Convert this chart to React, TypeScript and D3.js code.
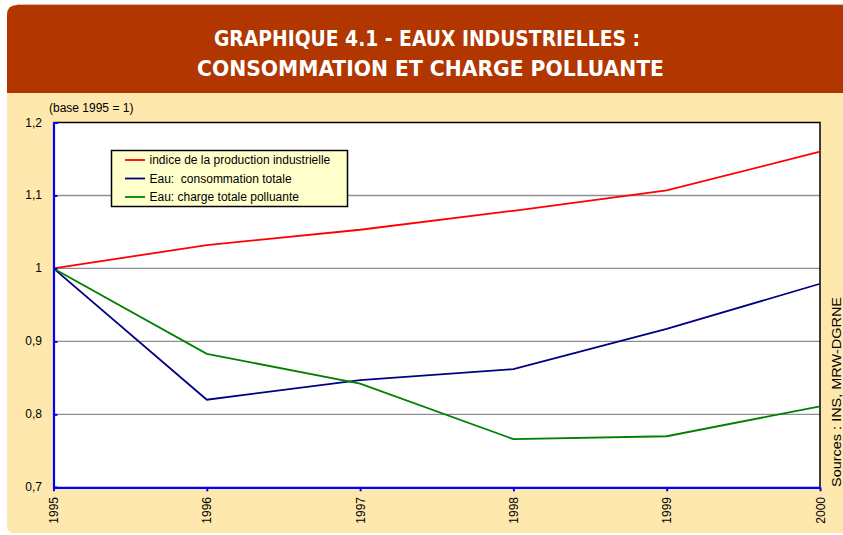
import React, { useEffect, useRef } from "react";
import * as d3 from "d3";

// values (base 1995 = 1)
const years = [1995, 1996, 1997, 1998, 1999, 2000];
const production = [1, 1.032, 1.053, 1.079, 1.107, 1.16];
const consommation = [1, 0.82, 0.847, 0.862, 0.917, 0.979];
const chargePolluante = [1, 0.883, 0.842, 0.766, 0.77, 0.811];
const yTicks = [0.7, 0.8, 0.9, 1, 1.1, 1.2];

const seriesNames = [
  "indice de la production industrielle",
  "Eau:  consommation totale",
  "Eau: charge totale polluante",
];
const seriesColors = ["#ff0000", "#000080", "#008000"];

const W = 843, H = 535;
const FONT = "'Liberation Sans', Arial, sans-serif";

export default function App() {
  const ref = useRef<SVGSVGElement>(null);

  useEffect(() => {
    const svg = d3.select(ref.current);
    svg.selectAll("*").remove();

    // header + panel
    svg.append("path")
      .attr("d", `M7,${93} L7,15 Q7,5 17,5 L${W + 5},5 L${W + 5},93 Z`)
      .attr("fill", "#b13600");
    svg.append("line")
      .attr("x1", 17).attr("x2", W).attr("y1", 4.5).attr("y2", 4.5)
      .attr("stroke", "#e0b8a8").attr("stroke-width", 1);
    svg.append("path")
      .attr("d", `M7,93 L${W + 5},93 L${W + 5},533 L14,533 Q7,533 7,526 Z`)
      .attr("fill", "#ffe8ad");

    const title = svg.append("g")
      .attr("fill", "#ffffff")
      .attr("font-family", "'Liberation Sans Narrow', 'DejaVu Sans Condensed', Arial, sans-serif")
      .attr("font-weight", "bold")
      .attr("font-size", 22)
      .attr("text-anchor", "middle");
    title.append("text").attr("x", 427).attr("y", 46)
      .attr("textLength", 426).attr("lengthAdjust", "spacingAndGlyphs")
      .text("GRAPHIQUE 4.1 - EAUX INDUSTRIELLES :");
    title.append("text").attr("x", 430.5).attr("y", 76)
      .attr("textLength", 467).attr("lengthAdjust", "spacingAndGlyphs")
      .text("CONSOMMATION ET CHARGE POLLUANTE");

    // plot area
    const left = 53.5, right = 820, top = 122.5, bottom = 487.3;

    const x = d3.scaleLinear().domain([1995, 2000]).range([left, right]);
    const y = d3.scaleLinear().domain([0.7, 1.2]).range([bottom, top]);

    svg.append("rect")
      .attr("x", left).attr("y", top)
      .attr("width", right - left).attr("height", bottom - top)
      .attr("fill", "#ffffff");

    // gridlines
    svg.append("g")
      .selectAll("line")
      .data(yTicks.filter(t => t > 0.7 && t < 1.2))
      .enter()
      .append("line")
      .attr("x1", left).attr("x2", right)
      .attr("y1", d => y(d)).attr("y2", d => y(d))
      .attr("stroke", "#8f8f8f").attr("stroke-width", 1.4);

    // frame top & right
    svg.append("path")
      .attr("d", `M${left},${top} L${right},${top} L${right},${bottom}`)
      .attr("fill", "none").attr("stroke", "#000").attr("stroke-width", 1.5);

    // lines
    const line = d3.line<number>()
      .x((d, i) => x(years[i]))
      .y(d => y(d));
    [production, consommation, chargePolluante].forEach((s, i) => {
      svg.append("path")
        .datum(s)
        .attr("d", line)
        .attr("fill", "none")
        .attr("stroke", seriesColors[i])
        .attr("stroke-width", 1.8);
    });

    // y axis
    const fmt = (v: number) => (Math.abs(v - 1) < 1e-9 ? "1" : d3.format(".1f")(v).replace(".", ","));
    const yAxis = svg.append("g")
      .attr("transform", `translate(${left},0)`)
      .call(d3.axisRight(y).tickValues(yTicks).tickSize(4).tickFormat(() => ""));
    yAxis.select(".domain").attr("stroke", "#0000ff").attr("stroke-width", 2.2);
    yAxis.selectAll(".tick line").attr("stroke", "#0000ff").attr("stroke-width", 2);
    svg.append("g")
      .selectAll("text")
      .data(yTicks)
      .enter()
      .append("text")
      .attr("x", 42).attr("y", d => y(d) + 4)
      .attr("text-anchor", "end")
      .attr("font-family", FONT).attr("font-size", 12).attr("fill", "#000")
      .text(fmt);

    // x axis
    const xAxis = svg.append("g")
      .attr("transform", `translate(0,${bottom})`)
      .call(d3.axisBottom(x).tickValues(years).tickSize(4).tickSizeOuter(0).tickFormat(() => ""));
    xAxis.select(".domain").attr("stroke", "#0000ff").attr("stroke-width", 2.2);
    xAxis.selectAll(".tick line").attr("stroke", "#0000ff").attr("stroke-width", 2);
    svg.append("g")
      .selectAll("text")
      .data(years)
      .enter()
      .append("text")
      .attr("transform", d => `translate(${x(d) + 4.5},497) rotate(-90)`)
      .attr("text-anchor", "end")
      .attr("font-family", FONT).attr("font-size", 12).attr("fill", "#000")
      .text(d => String(d));

    svg.append("text")
      .attr("x", 49).attr("y", 112)
      .attr("font-family", FONT).attr("font-size", 12).attr("fill", "#000")
      .text("(base 1995 = 1)");

    // source, rotated on the right edge
    svg.append("text")
      .attr("transform", `translate(841,487) rotate(-90)`)
      .attr("font-family", FONT).attr("font-size", 13).attr("fill", "#000")
      .attr("textLength", 190).attr("lengthAdjust", "spacingAndGlyphs")
      .text("Sources : INS, MRW-DGRNE");

    // legend
    const lg = svg.append("g").attr("transform", "translate(111.5,150.5)");
    lg.append("rect")
      .attr("width", 236).attr("height", 56)
      .attr("fill", "#ffffcc").attr("stroke", "#000").attr("stroke-width", 1.5);
    seriesNames.forEach((name, i) => {
      const ly = 9.5 + i * 18.5;
      lg.append("line")
        .attr("x1", 13.5).attr("x2", 33.5).attr("y1", ly).attr("y2", ly)
        .attr("stroke", seriesColors[i]).attr("stroke-width", 1.8);
      lg.append("text")
        .attr("x", 38).attr("y", ly + 4.2)
        .attr("font-family", FONT).attr("font-size", 12).attr("fill", "#000")
        .style("white-space", "pre")
        .text(name);
    });
  }, []);

  return (
    <svg
      ref={ref}
      width={W}
      height={H}
      style={{ position: "absolute", left: 0, top: 0, background: "#ffffff" }}
    />
  );
}
